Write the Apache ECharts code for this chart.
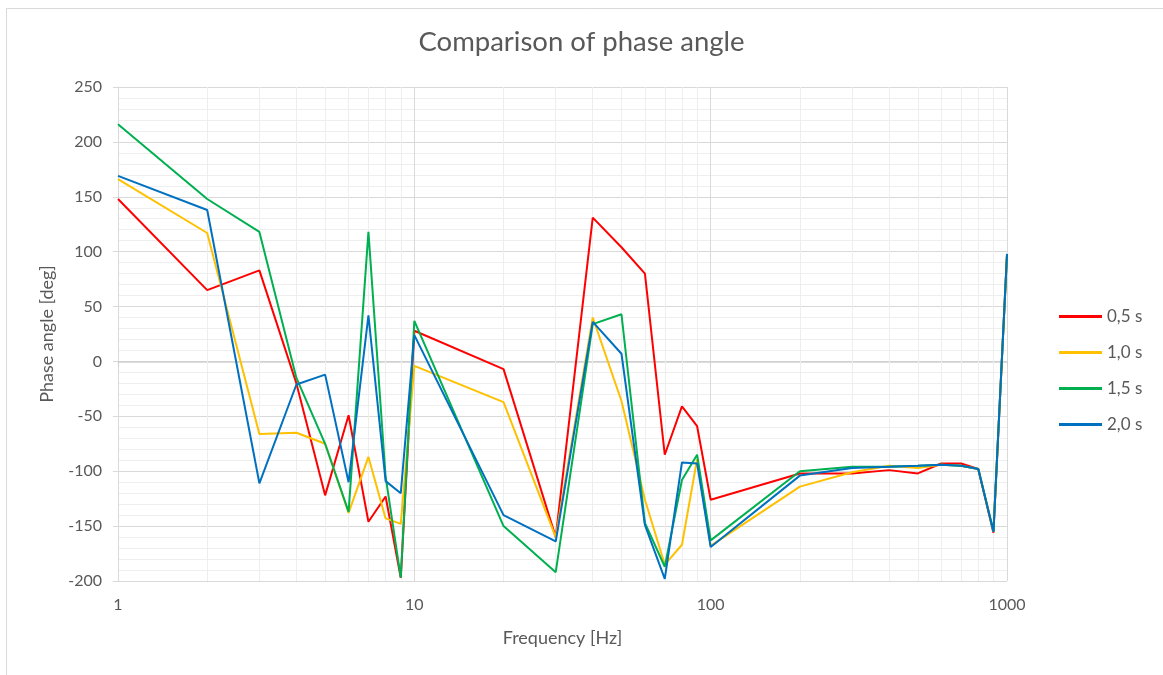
<!DOCTYPE html>
<html>
<head>
<meta charset="utf-8">
<title>Comparison of phase angle</title>
<script src="https://cdn.jsdelivr.net/npm/echarts@6/dist/echarts.min.js"></script>
<style>
  html, body { margin: 0; padding: 0; background: #ffffff; }
  #chart { width: 1163px; height: 675px; }
</style>
</head>
<body>
<div id="chart"></div>
<script>
// Frequencies (Hz) at which the phase angle was measured
const frequencies = [1, 2, 3, 4, 5, 6, 7, 8, 9, 10, 20, 30, 40, 50, 60, 70, 80, 90, 100, 200, 300, 400, 500, 600, 700, 800, 900, 1000];

// Phase angle [deg] per time window
const phase05 = [148, 65, 83, -20, -122, -49, -146, -123, -197, 28, -7, -160, 131, 104, 80, -85, -41, -59, -126, -102, -102, -99, -102, -93, -93, -98, -156, 97];
const phase10 = [166, 117, -66, -65, -75, -138, -87, -143, -148, -4, -37, -160, 40, -36, -126, -185, -167, -89, -168, -114, -101, -95, -97, -94, -95, -98, -155, 97];
const phase15 = [216, 148, 118, -15, -75, -137, 118, -105, -197, 37, -150, -192, 34, 43, -147, -187, -108, -85, -163, -100, -96, -96, -95, -94, -95, -98, -155, 97];
const phase20 = [169, 138, -111, -21, -12, -110, 42, -109, -120, 24, -140, -164, 36, 7, -149, -198, -92, -93, -169, -104, -97, -96, -95, -94, -95, -98, -155, 98];

const seriesNames = ['0,5 s', '1,0 s', '1,5 s', '2,0 s'];
const seriesColors = ['#FF0000', '#FFC000', '#00B050', '#0070C0'];

// Intermediate log-decade positions for the light vertical grid
const minorFrequencies = [2, 3, 4, 5, 6, 7, 8, 9, 20, 30, 40, 50, 60, 70, 80, 90, 200, 300, 400, 500, 600, 700, 800, 900];

const yMin = -200, yMax = 250, yStep = 50;

const textColor = '#595959';
const fontFamily = 'Lato, "Open Sans", sans-serif';

function pairs(values) {
  return frequencies.map((f, i) => [f, values[i]]);
}

const phaseSets = [phase05, phase10, phase15, phase20];

const dataSeries = phaseSets.map((vals, i) => ({
  name: seriesNames[i],
  type: 'line',
  data: pairs(vals),
  symbol: 'none',
  showSymbol: false,
  z: 10,
  lineStyle: { color: seriesColors[i], width: 2 },
  itemStyle: { color: seriesColors[i] },
  emphasis: { disabled: true }
}));

const minorGridSeries = {
  name: 'minorGrid',
  type: 'line',
  data: [],
  z: 1,
  silent: true,
  markLine: {
    z: 1,
    silent: true,
    symbol: ['none', 'none'],
    animation: false,
    label: { show: false },
    lineStyle: { color: '#eeeeee', width: 1, type: 'solid' },
    emphasis: { disabled: true },
    data: minorFrequencies.map(f => ({ xAxis: f }))
  }
};

const chart = echarts.init(document.getElementById('chart'), null, { renderer: 'canvas' });

chart.setOption({
  animation: false,
  backgroundColor: '#ffffff',
  title: {
    text: 'Comparison of phase angle',
    left: 'center',
    top: 28,
    padding: 0,
    textStyle: { color: textColor, fontFamily: fontFamily, fontSize: 27.5, fontWeight: 'normal' }
  },
  graphic: [{
    type: 'rect',
    left: 4,
    top: 6,
    shape: { width: 1175, height: 667 },
    style: { fill: 'none', stroke: '#d9d9d9', lineWidth: 1 },
    silent: true,
    z: -1
  }],
  grid: { left: 118, right: 156, top: 87, bottom: 94, containLabel: false },
  legend: {
    data: seriesNames,
    orient: 'vertical',
    left: 1059,
    top: 308,
    padding: 0,
    itemWidth: 43,
    itemHeight: 3,
    itemGap: 19,
    icon: 'rect',
    textStyle: { color: textColor, fontFamily: fontFamily, fontSize: 17 },
    selectedMode: false
  },
  xAxis: {
    type: 'log',
    logBase: 10,
    min: 1,
    max: 1000,
    name: 'Frequency [Hz]',
    nameLocation: 'middle',
    nameGap: 48,
    nameTextStyle: { color: textColor, fontFamily: fontFamily, fontSize: 18 },
    axisLine: { show: true, lineStyle: { color: '#d0d0d0', width: 1.5 } },
    axisTick: { show: true, length: 5, lineStyle: { color: '#d0d0d0' } },
    axisLabel: {
      color: textColor, fontFamily: fontFamily, fontSize: 16, margin: 16,
      formatter: v => String(Math.round(v))
    },
    splitLine: { show: true, lineStyle: { color: '#d9d9d9', width: 1 } }
  },
  yAxis: {
    type: 'value',
    min: yMin,
    max: yMax,
    interval: yStep,
    name: 'Phase angle [deg]',
    nameLocation: 'middle',
    nameGap: 62,
    nameRotate: 90,
    nameTextStyle: { color: textColor, fontFamily: fontFamily, fontSize: 18 },
    axisLine: { show: true, lineStyle: { color: '#d9d9d9', width: 1 } },
    axisTick: { show: true, length: 5, lineStyle: { color: '#d9d9d9' } },
    axisLabel: { color: textColor, fontFamily: fontFamily, fontSize: 16, margin: 16 },
    splitLine: { show: true, lineStyle: { color: '#d9d9d9', width: 1 } },
    minorTick: { show: false, splitNumber: 5 },
    minorSplitLine: { show: true, lineStyle: { color: '#eeeeee', width: 1 } }
  },
  series: [minorGridSeries].concat(dataSeries)
});
</script>
</body>
</html>
